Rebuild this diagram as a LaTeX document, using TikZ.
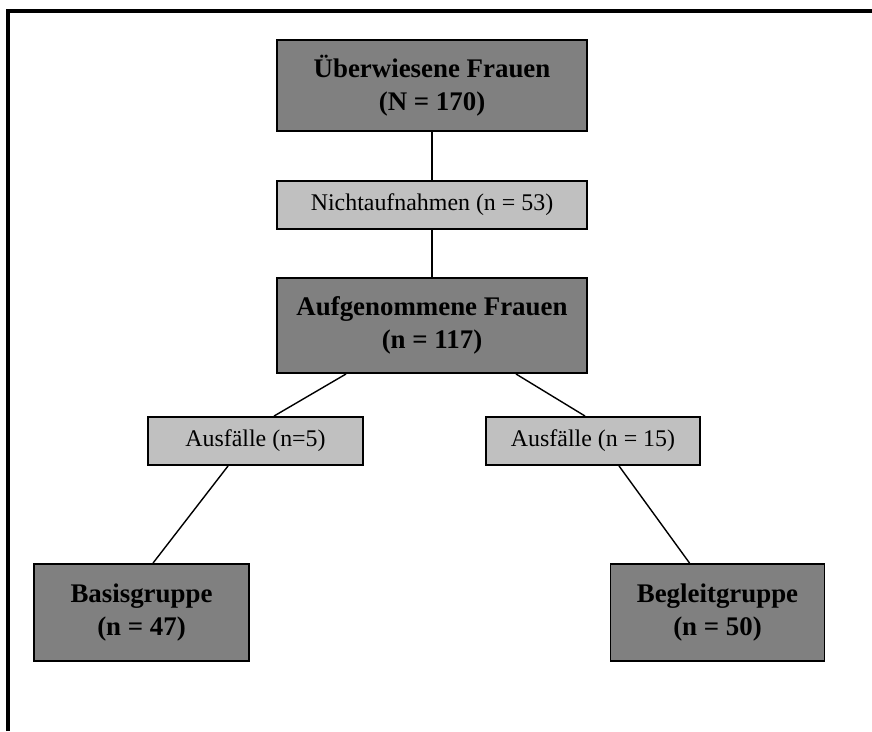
\documentclass[tikz,border=0pt]{standalone}
\usepackage{fontspec}
\setmainfont{Liberation Serif}
\definecolor{boxdark}{HTML}{808080}
\definecolor{boxlight}{HTML}{C0C0C0}
\begin{document}
\begin{tikzpicture}[x=0.02cm, y=-0.02cm,
    bigbox/.style={draw, line width=1.1pt, fill=boxdark, align=center, inner sep=0pt,
      font=\fontsize{15.3}{18.5}\selectfont\bfseries},
    smallbox/.style={draw, line width=1.1pt, fill=boxlight, inner sep=0pt,
      minimum height=0.96cm, font=\fontsize{13.6}{16}\selectfont},
    link/.style={line width=0.8pt}]
    \useasboundingbox (0,0) rectangle (872,731);
    \draw[line width=2pt] (8,731) -- (8,11) -- (872,11);

    % boxes
    \node[bigbox, minimum width=6.2cm, minimum height=1.82cm] (ueberw) at (432,85.5) {Überwiesene Frauen\\(N = 170)};
    \node[smallbox, minimum width=6.2cm] (nicht) at (432,205) {Nichtaufnahmen (n = 53)};
    \node[bigbox, minimum width=6.2cm, minimum height=1.9cm] (aufg) at (432,325.5) {Aufgenommene Frauen\\(n = 117)};
    \node[smallbox, minimum width=4.3cm] (ausfl) at (255.5,441) {Ausfälle (n=5)};
    \node[smallbox, minimum width=4.28cm] (ausfr) at (593,441) {Ausfälle (n = 15)};
    \node[bigbox, minimum width=4.3cm, minimum height=1.94cm] (basis) at (141.5,612.5) {Basisgruppe\\(n = 47)};
    \node[bigbox, minimum width=4.28cm, minimum height=1.94cm] (begl) at (717.5,612.5) {Begleitgruppe\\(n = 50)};

    % connectors
    \draw[link] (ueberw) -- (nicht);
    \draw[link] (nicht) -- (aufg);
    \draw[link] ([xshift=1.4cm]aufg.south west) -- ([xshift=2.54cm]ausfl.north west);
    \draw[link] ([xshift=-1.44cm]aufg.south east) -- ([xshift=2cm]ausfr.north west);
    \draw[link] ([xshift=1.62cm]ausfl.south west) -- ([xshift=2.4cm]basis.north west);
    \draw[link] ([xshift=2.68cm]ausfr.south west) -- ([xshift=1.6cm]begl.north west);
\end{tikzpicture}
\end{document}
